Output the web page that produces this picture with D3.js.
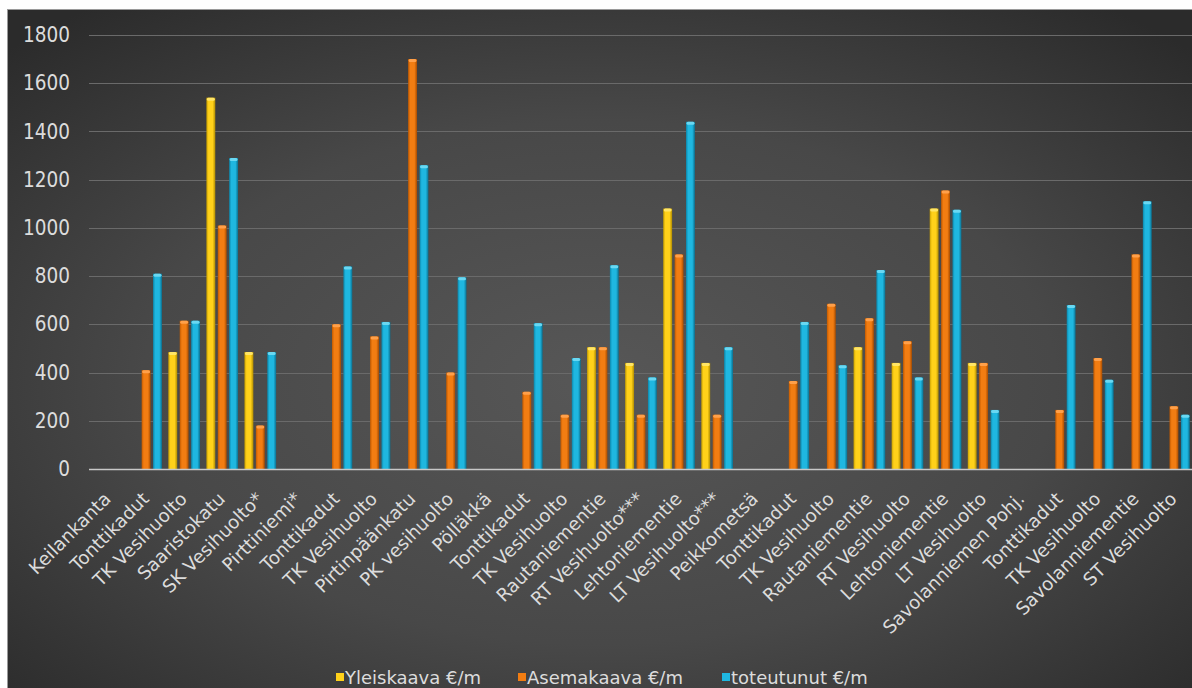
<!DOCTYPE html>
<html>
<head>
<meta charset="utf-8">
<script src="https://cdn.jsdelivr.net/npm/d3@7"></script>
<style>
  html, body { margin: 0; padding: 0; background: #ffffff; }
  svg { display: block; }
  text { font-family: "DejaVu Sans", Verdana, sans-serif; }
</style>
</head>
<body>
<svg id="chart" width="1192" height="688"></svg>
<script>
// ---- data ----
const categories = [
  "Keilankanta", "Tonttikadut", "TK Vesihuolto", "Saaristokatu", "SK Vesihuolto*",
  "Pirttiniemi*", "Tonttikadut", "TK Vesihuolto", "Pirtinpäänkatu", "PK vesihuolto",
  "Pölläkkä", "Tonttikadut", "TK Vesihuolto", "Rautaniementie", "RT Vesihuolto***",
  "Lehtoniementie", "LT Vesihuolto***", "Peikkometsä", "Tonttikadut", "TK Vesihuolto",
  "Rautaniementie", "RT Vesihuolto", "Lehtoniementie", "LT Vesihuolto", "Savolanniemen Pohj.",
  "Tonttikadut", "TK Vesihuolto", "Savolanniementie", "ST Vesihuolto"
];
const seriesNames = ["Yleiskaava €/m", "Asemakaava €/m", "toteutunut €/m"];
const yleiskaava = [null, null, 485, 1540, 485, null, null, null, null, null, null, null, null, 505, 440, 1080, 440, null, null, null, 505, 440, 1080, 440, null, null, null, null, null];
const asemakaava = [null, 410, 615, 1010, 180, null, 600, 550, 1700, 400, null, 320, 225, 505, 225, 890, 225, null, 365, 685, 625, 530, 1155, 440, null, 245, 460, 890, 260];
const toteutunut = [null, 810, 615, 1290, 485, null, 840, 610, 1260, 795, null, 605, 460, 845, 380, 1440, 505, null, 610, 430, 825, 380, 1075, 245, null, 680, 370, 1110, 225];
const yTicks = [0, 200, 400, 600, 800, 1000, 1200, 1400, 1600, 1800];

// ---- styles ----
const seriesColors = [
  { dark: "#c9a000", mid: "#ffd11a", light: "#ffe566", edge: "#b08c00" },
  { dark: "#c25a00", mid: "#f27d12", light: "#ffa04a", edge: "#a84c00" },
  { dark: "#0c86aa", mid: "#1fb7e0", light: "#6ad8f2", edge: "#0a7090" }
];

const W = 1192, H = 688;
const svg = d3.select("#chart");
const defs = svg.append("defs");

// background gradient
const bg = defs.append("radialGradient").attr("id", "bgGrad")
  .attr("cx", "50%").attr("cy", "55%").attr("r", "70%");
bg.append("stop").attr("offset", "0%").attr("stop-color", "#575757");
bg.append("stop").attr("offset", "55%").attr("stop-color", "#484848");
bg.append("stop").attr("offset", "100%").attr("stop-color", "#2b2b2b");

seriesColors.forEach((c, i) => {
  const g = defs.append("linearGradient").attr("id", "barGrad" + i)
    .attr("x1", "0%").attr("x2", "100%").attr("y1", "0%").attr("y2", "0%");
  g.append("stop").attr("offset", "0%").attr("stop-color", c.dark);
  g.append("stop").attr("offset", "25%").attr("stop-color", c.mid);
  g.append("stop").attr("offset", "70%").attr("stop-color", c.mid);
  g.append("stop").attr("offset", "100%").attr("stop-color", c.edge);
});

svg.append("rect").attr("x", 7).attr("y", 9).attr("width", W - 7).attr("height", H - 9)
  .attr("fill", "url(#bgGrad)");
svg.append("line").attr("x1", 7).attr("x2", W).attr("y1", 9.5).attr("y2", 9.5)
  .attr("stroke", "#9a9a9a").attr("stroke-width", 1);
svg.append("line").attr("x1", 7.5).attr("x2", 7.5).attr("y1", 9).attr("y2", H)
  .attr("stroke", "#9a9a9a").attr("stroke-width", 1);

// ---- scales ----
const plotLeft = 89, plotRight = 1193, plotTop = 35, plotBottom = 469;
const x0 = d3.scaleBand().domain(d3.range(categories.length))
  .range([plotLeft, plotRight]).paddingInner(0.12).paddingOuter(0.06);
const x1 = d3.scaleBand().domain(d3.range(3))
  .range([0, x0.bandwidth()]).paddingInner(0.22).paddingOuter(0.08);
const y = d3.scaleLinear().domain([0, 1800]).range([plotBottom, plotTop]);

// gridlines
svg.append("g").selectAll("line").data(yTicks.filter(d => d > 0)).join("line")
  .attr("x1", plotLeft).attr("x2", W)
  .attr("y1", d => Math.round(y(d)) + 0.5).attr("y2", d => Math.round(y(d)) + 0.5)
  .attr("stroke", "#6a6a6a").attr("stroke-width", 1);

// y axis
const yAxis = svg.append("g").attr("transform", `translate(${plotLeft},0)`)
  .call(d3.axisLeft(y).tickValues(yTicks).tickSize(0).tickPadding(19).tickFormat(d3.format("d")));
yAxis.select(".domain").remove();
yAxis.selectAll("text").attr("fill", "#dcdcdc").style("font-size", "18.5px")
  .attr("font-family", "DejaVu Sans").attr("transform", "scale(1,1.12)");

// bars
const seriesData = [yleiskaava, asemakaava, toteutunut];
const barsG = svg.append("g");
seriesData.forEach((vals, s) => {
  const data = vals.map((v, i) => ({ i, v })).filter(d => d.v != null && d.v > 0);
  const g = barsG.append("g");
  g.selectAll("rect.bar").data(data).join("rect").attr("class", "bar")
    .attr("x", d => x0(d.i) + x1(s))
    .attr("width", x1.bandwidth())
    .attr("y", d => y(d.v))
    .attr("height", d => y(0) - y(d.v))
    .attr("fill", `url(#barGrad${s})`);
  g.selectAll("rect.cap").data(data).join("rect").attr("class", "cap")
    .attr("x", d => x0(d.i) + x1(s) + 0.5)
    .attr("width", x1.bandwidth() - 1)
    .attr("y", d => y(d.v))
    .attr("height", 3)
    .attr("rx", 1.5)
    .attr("fill", seriesColors[s].light);
});

// x axis baseline
svg.append("line").attr("x1", plotLeft).attr("x2", W)
  .attr("y1", plotBottom + 0.5).attr("y2", plotBottom + 0.5)
  .attr("stroke", "#c8c8c8").attr("stroke-width", 1.5);

// x labels
const xAxis = svg.append("g").attr("transform", `translate(0,${plotBottom})`)
  .call(d3.axisBottom(x0).tickSize(0).tickFormat(i => categories[i]));
xAxis.select(".domain").remove();
xAxis.selectAll("text")
  .attr("fill", "#dcdcdc").style("font-size", "18.3px").attr("font-family", "DejaVu Sans")
  .attr("text-anchor", "end")
  .attr("dy", null).attr("y", null)
  .attr("transform", "translate(4,31) rotate(-45)");

// legend
const legendX = [336, 518, 722];
const legend = svg.append("g");
seriesNames.forEach((name, s) => {
  const g = legend.append("g").attr("transform", `translate(${legendX[s]},678)`);
  g.append("rect").attr("x", 0).attr("y", -5).attr("width", 8).attr("height", 8)
    .attr("fill", seriesColors[s].mid);
  g.append("text").attr("x", 9).attr("y", 0).attr("dy", "0.35em")
    .attr("fill", "#dcdcdc").style("font-size", "18px").text(name);
});
</script>
</body>
</html>
